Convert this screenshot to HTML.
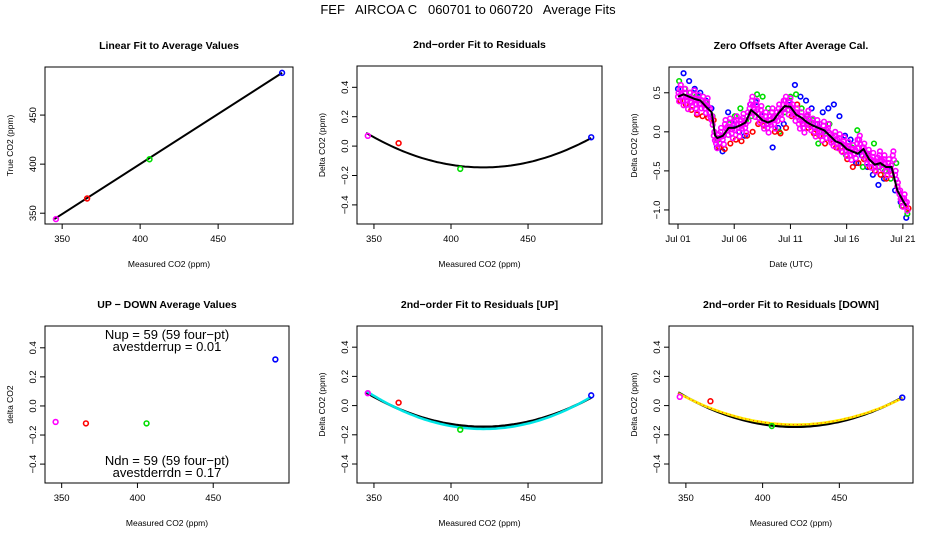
<!DOCTYPE html>
<html><head><meta charset="utf-8">
<style>
html,body{margin:0;padding:0;background:#fff;}
svg{display:block;font-family:"Liberation Sans",sans-serif;}
</style></head>
<body>
<svg id="c" width="936" height="540" xmlns="http://www.w3.org/2000/svg">
<text x="468" y="14" font-size="13" text-anchor="middle" xml:space="preserve">FEF   AIRCOA C   060701 to 060720   Average Fits</text>
</svg>
<script>
// ---- data ----
const ptColors = ['#ff00ff','#ff0000','#00dd00','#0000ff'];
const measX = [346, 366, 406, 491];
const trueY = [344, 365, 405, 493];
const linFit = [345, 491];
const resid = [0.07, 0.02, -0.155, 0.06];
const residFit = [0.09, -0.145, 0.055];
const upDown = [-0.11, -0.12, -0.12, 0.32];
const residUp = [0.085, 0.02, -0.165, 0.07];
const upFitBlack = [0.09, -0.145, 0.055];
const upFitCyan = [0.10, -0.16, 0.06];
const residDn = [0.06, 0.03, -0.14, 0.055];
const dnFitBlack = [0.09, -0.145, 0.055];
const dnFitYellow = [0.085, -0.13, 0.05];
const co2Ticks = [350, 400, 450];
const trueTicks = [350, 400, 450];
const residTicks = [-0.4, -0.2, 0.0, 0.2, 0.4];
const residTickLabels = ['\u22120.4','\u22120.2','0.0','0.2','0.4'];
const dayTicks = [0, 5, 10, 15, 20];
const dayTickLabels = ['Jul 01','Jul 06','Jul 11','Jul 16','Jul 21'];
const offTicks = [-1.0, -0.5, 0.0, 0.5];
const offTickLabels = ['\u22121.0','\u22120.5','0.0','0.5'];
const meanDays = [0,0.5,1,1.5,2,2.5,3,3.3,3.5,4,4.5,5,5.5,6,6.5,7,7.5,8,8.5,9,9.5,10,10.5,11,11.5,12,12.5,13,13.5,14,14.5,15,15.5,16,16.5,17,17.5,18,18.5,19,19.5,20,20.3];
const meanVals = [0.45,0.48,0.45,0.42,0.40,0.32,0.25,-0.05,-0.08,-0.05,0.05,0.05,0.08,0.12,0.28,0.22,0.15,0.12,0.15,0.25,0.33,0.32,0.22,0.18,0.12,0.08,0.05,0.02,-0.05,-0.12,-0.15,-0.22,-0.25,-0.28,-0.22,-0.35,-0.42,-0.40,-0.45,-0.45,-0.75,-0.88,-0.95];
const magentaVals = [0.45,0.55,0.40,0.50,0.35,0.45,0.38,0.48,0.30,0.42,0.36,
0.40,0.30,0.38,0.25,0.15,-0.05,-0.15,-0.08,0.00,-0.10,
0.10,0.02,0.12,-0.02,0.08,0.15,0.00,0.10,0.18,0.05,
0.20,0.30,0.40,0.25,0.35,0.18,0.28,0.10,0.20,0.05,
0.15,0.25,0.10,0.20,0.30,0.22,0.35,0.40,0.28,0.38,
0.30,0.20,0.25,0.10,0.20,0.05,0.15,0.22,0.08,0.12,
0.00,0.10,0.05,-0.05,0.08,-0.02,0.05,-0.08,-0.12,-0.05,
-0.15,-0.08,-0.20,-0.12,-0.25,-0.18,-0.30,-0.22,-0.28,-0.15,
-0.10,-0.25,-0.20,-0.35,-0.28,-0.40,-0.32,-0.45,-0.38,-0.30,
-0.42,-0.35,-0.50,-0.40,-0.48,-0.30,-0.55,-0.70,-0.80,-0.90,
-0.85,-0.95];
const redVals = [0.40,0.35,0.28,0.22,0.20,0.18,0.15,-0.20,-0.22,-0.15,-0.10,-0.12,-0.05,0.00,0.10,0.08,0.15,0.00,-0.02,0.05,0.20,0.35,0.10,0.05,-0.02,-0.05,-0.15,-0.10,-0.20,-0.25,-0.35,-0.45,-0.40,-0.35,-0.45,-0.50,-0.55,-0.60,-0.55,-0.70,-0.95,-0.98];
const greenVals = [0.65,0.55,0.50,0.45,0.40,0.35,0.20,-0.10,-0.05,0.10,0.20,0.30,0.15,0.20,0.48,0.45,0.30,0.20,0.00,0.25,0.45,0.48,0.30,0.20,0.15,-0.15,0.00,0.10,-0.05,-0.20,-0.30,-0.20,0.02,-0.45,-0.30,-0.15,-0.45,-0.50,-0.60,-0.40,-0.95,-1.05];
const blueVals = [0.55,0.75,0.65,0.55,0.50,0.40,0.30,-0.20,-0.25,0.25,0.10,0.00,-0.05,0.35,0.38,0.20,0.10,-0.20,0.05,0.10,0.40,0.60,0.45,0.40,0.30,0.10,0.25,0.30,0.35,0.20,-0.05,-0.10,-0.40,-0.30,-0.45,-0.55,-0.68,-0.60,-0.50,-0.75,-0.90,-1.10];

// ---- drawing ----
const NS='http://www.w3.org/2000/svg';
const svg=document.getElementById('c');
function mk(tag,attrs,parent){const e=document.createElementNS(NS,tag);for(const k in attrs)e.setAttribute(k,attrs[k]);(parent||svg).appendChild(e);return e;}
function lin(d0,d1,r0,r1){return v=>r0+(v-d0)*(r1-r0)/(d1-d0);}

function panel(o){
  const g=mk('g',{});
  
  
  const b=o.box;
  const sx=lin(o.xd[0],o.xd[1],b[0],b[2]);
  const sy=lin(o.yd[0],o.yd[1],b[3],b[1]);
  const fr=mk('rect',{x:b[0],y:b[1],width:b[2]-b[0],height:b[3]-b[1],fill:'none',stroke:'#000','stroke-width':1},g);
  
  
  const t=mk('text',{x:(b[0]+b[2])/2,y:b[1]-18,'font-size':10.5,'font-weight':'bold','text-anchor':'middle'},g);
  t.textContent=o.title;
  
  
  const xa=mk('g',{},g);
  
  
  const xt=o.xt, xl=o.xl||o.xt.map(String);
  mk('line',{x1:sx(xt[0]),x2:sx(xt[xt.length-1]),y1:b[3],y2:b[3],stroke:'#000'},xa);
  xt.forEach((v,i)=>{const x=sx(v);mk('line',{x1:x,x2:x,y1:b[3],y2:b[3]+5,stroke:'#000'},xa);
    const tx=mk('text',{x:x,y:b[3]+18,'font-size':9.5,'text-anchor':'middle'},xa);tx.textContent=xl[i];
    
    });
  const xtl=mk('text',{x:(b[0]+b[2])/2,y:b[3]+43,'font-size':8.5,'text-anchor':'middle'},g);xtl.textContent=o.xlab;
  
  
  const ya=mk('g',{},g);
  
  
  const yt=o.yt, yl=o.yl||o.yt.map(String);
  mk('line',{x1:b[0],x2:b[0],y1:sy(yt[0]),y2:sy(yt[yt.length-1]),stroke:'#000'},ya);
  yt.forEach((v,i)=>{const y=sy(v);mk('line',{x1:b[0]-5,x2:b[0],y1:y,y2:y,stroke:'#000'},ya);
    const tx=mk('text',{x:0,y:0,'font-size':9.5,'text-anchor':'middle',transform:`translate(${b[0]-9},${y}) rotate(-90)`},ya);tx.textContent=yl[i];
    
    });
  const ytl=mk('text',{x:0,y:0,'font-size':8.5,'text-anchor':'middle',transform:`translate(${b[0]-32},${(b[1]+b[3])/2}) rotate(-90)`},g);ytl.textContent=o.ylab;
  
  
  return {g,sx,sy};
}
function pts(p,xs,ys,cols,r){
  xs.forEach((x,i)=>{const c=mk('circle',{cx:p.sx(x),cy:p.sy(ys[i]),r:r||2.4,fill:'none',stroke:Array.isArray(cols)?cols[i]:cols,'stroke-width':1.6},p.g);
    
    });
}
function quadPts(f){
  const xs=[345,422,491], ys=[f[0],f[1],f[2]];
  return x=>{let s=0;for(let i=0;i<3;i++){let l=1;for(let j=0;j<3;j++)if(j!=i)l*=(x-xs[j])/(xs[i]-xs[j]);s+=ys[i]*l;}return s;};
}
function curve(p,f,col,w,name,dash){
  const q=quadPts(f);let d='';
  for(let x=345;x<=491;x+=2){d+=(d?'L':'M')+p.sx(x).toFixed(1)+','+p.sy(q(x)).toFixed(1);}
  const a={d:d,fill:'none',stroke:col,'stroke-width':w};if(dash)a['stroke-dasharray']=dash;
  const e=mk('path',a,p.g);
  
  
}
const XD=[339,498], RD=[-0.53,0.545];

let p=panel({name:'linear-fit-panel',box:[45,67,293,224],xd:XD,yd:[339,499],xt:co2Ticks,yt:trueTicks,title:'Linear Fit to Average Values',xlab:'Measured CO2 (ppm)',ylab:'True CO2 (ppm)'});
{const e=mk('line',{x1:p.sx(linFit[0]),y1:p.sy(linFit[0]-1),x2:p.sx(linFit[1]),y2:p.sy(linFit[1]+2),stroke:'#000','stroke-width':2},p.g);

}
pts(p,measX,trueY,ptColors);

p=panel({name:'residual-fit-panel',box:[357,66,602,224],xd:XD,yd:RD,xt:co2Ticks,yt:residTicks,yl:residTickLabels,title:'2nd\u2212order Fit to Residuals',xlab:'Measured CO2 (ppm)',ylab:'Delta CO2 (ppm)'});
curve(p,residFit,'#000',2,'residual-fit-curve');
pts(p,measX,resid,ptColors);

p=panel({name:'zero-offsets-panel',box:[669,67,913,224],xd:[-0.8,20.9],yd:[-1.18,0.83],xt:dayTicks,xl:dayTickLabels,yt:offTicks,yl:offTickLabels,title:'Zero Offsets After Average Cal.',xlab:'Date (UTC)',ylab:'Delta CO2 (ppm)'});
const half=blueVals.map((v,i)=>i*20.3/41);
pts(p,half,blueVals,'#0000ff',2.3);
pts(p,half.map(d=>d+0.1),greenVals,'#00dd00',2.3);
pts(p,half.map(d=>d+0.2),redVals,'#ff0000',2.3);
const mDays=magentaVals.map((v,i)=>i*20.3/102);
pts(p,mDays,magentaVals,'#ff00ff',2.3);
pts(p,mDays.map(d=>d+0.1),magentaVals.map(v=>v-0.06),'#ff00ff',2.3);
pts(p,mDays.map(d=>d+0.05),magentaVals.map(v=>v+0.05),'#ff00ff',2.3);
{let d='';meanDays.forEach((x,i)=>{d+=(i?'L':'M')+p.sx(x).toFixed(1)+','+p.sy(meanVals[i]).toFixed(1);});
const e=mk('path',{d:d,fill:'none',stroke:'#000','stroke-width':2},p.g);

}

p=panel({name:'up-down-panel',box:[45,326,289,483],xd:[339,500],yd:[-0.53,0.55],xt:co2Ticks,yt:residTicks,yl:residTickLabels,title:'UP \u2212 DOWN Average Values',xlab:'Measured CO2 (ppm)',ylab:'delta CO2'});
pts(p,measX,upDown,ptColors);
[['Nup = 59 (59 four\u2212pt)',339],['avestderrup =  0.01',351],['Ndn = 59 (59 four\u2212pt)',465],['avestderrdn =  0.17',477]].forEach(a=>{
  const t=mk('text',{x:167,y:a[1],'font-size':13,'text-anchor':'middle','xml:space':'preserve'},p.g);t.textContent=a[0];
  
  });

p=panel({name:'residual-up-panel',box:[357,326,602,483],xd:XD,yd:RD,xt:co2Ticks,yt:residTicks,yl:residTickLabels,title:'2nd\u2212order Fit to Residuals [UP]',xlab:'Measured CO2 (ppm)',ylab:'Delta CO2 (ppm)'});
curve(p,upFitBlack,'#000',2.5,'average-fit-curve');
curve(p,upFitCyan,'#00e5e5',2.5,'up-fit-curve');
pts(p,measX,residUp,ptColors);

p=panel({name:'residual-down-panel',box:[669,326,913,483],xd:XD,yd:RD,xt:co2Ticks,yt:residTicks,yl:residTickLabels,title:'2nd\u2212order Fit to Residuals [DOWN]',xlab:'Measured CO2 (ppm)',ylab:'Delta CO2 (ppm)'});
curve(p,dnFitBlack,'#000',2.5,'average-fit-curve');
curve(p,dnFitYellow,'#ffee00',2.5,'down-fit-curve');
curve(p,dnFitYellow,'#ff3300',1,'down-fit-curve-dots','1 3');
pts(p,measX,residDn,ptColors);
</script>
</body></html>
